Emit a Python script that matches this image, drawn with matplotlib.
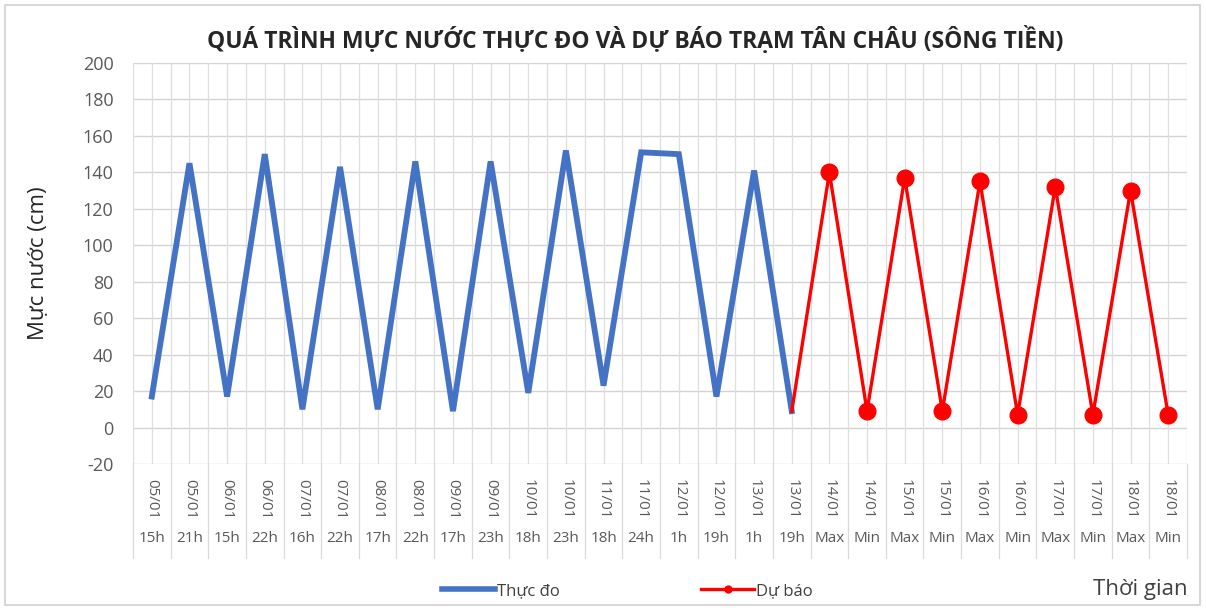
import matplotlib
matplotlib.use("Agg")
import matplotlib.pyplot as plt
from matplotlib.lines import Line2D
from matplotlib.patches import Rectangle
import numpy as np

plt.rcParams['font.family'] = ['Open Sans', 'DejaVu Sans']
plt.rcParams['axes.unicode_minus'] = False

dates = ["05/01", "05/01", "06/01", "06/01", "07/01", "07/01", "08/01", "08/01",
         "09/01", "09/01", "10/01", "10/01", "11/01", "11/01", "12/01", "12/01",
         "13/01", "13/01", "14/01", "14/01", "15/01", "15/01", "16/01", "16/01",
         "17/01", "17/01", "18/01", "18/01"]
times = ["15h", "21h", "15h", "22h", "16h", "22h", "17h", "22h", "17h", "23h",
         "18h", "23h", "18h", "24h", "1h", "19h", "1h", "19h", "Max", "Min",
         "Max", "Min", "Max", "Min", "Max", "Min", "Max", "Min"]
observed = [17, 145, 17, 150, 10, 143, 10, 146, 9, 146, 19, 152, 23, 151, 150, 17, 141, 9]
forecast = [9, 140, 9, 137, 9, 135, 7, 132, 7, 130, 7]

title = "QUÁ TRÌNH MỰC NƯỚC THỰC ĐO VÀ DỰ BÁO TRẠM TÂN CHÂU (SÔNG TIỀN)"

n = len(dates)
x = np.arange(n)
x_obs = x[:len(observed)]
x_fc = x[len(observed) - 1:]

W, H = 1206, 608
fig = plt.figure(figsize=(W / 100, H / 100), dpi=100)
fig.patch.set_facecolor("white")
fig.add_artist(Rectangle((5 / W, 3 / H), 1195 / W, 600 / H, transform=fig.transFigure,
                         fill=False, edgecolor="#d0d0d0", linewidth=1.2))

left, right, top, bottom = 133 / W, 1187 / W, 1 - 63 / H, 1 - 464 / H
ax = fig.add_axes([left, bottom, right - left, top - bottom])

ax.set_xlim(-0.5, n - 0.5)
ax.set_ylim(-20, 200)
ax.set_yticks(np.arange(-20, 201, 20))
ax.tick_params(axis='y', length=0, labelsize=13, labelcolor="#595959", pad=14)
ax.set_xticks([])
for s in ax.spines.values():
    s.set_visible(False)

# gridlines
for yv in np.arange(-20, 201, 20):
    ax.axhline(yv, color="#d4d4d4", linewidth=1.0, zorder=0)
for xv in np.arange(-0.5, n, 0.5):
    ax.axvline(xv, color="#dedede", linewidth=0.9, zorder=0)

ax.plot(x_obs, observed, color="#4472C4", linewidth=4.2, solid_joinstyle="miter", zorder=3)
ax.plot(x_fc, forecast, color="#FF0000", linewidth=2.4, marker="o", markersize=12,
        markevery=list(range(1, len(forecast))), zorder=4)

# category labels
trans = ax.get_xaxis_transform()
ax_h_px = (top - bottom) * H
def ay(py):
    return (464 - py) / ax_h_px

for i in range(n):
    ax.text(i, ay(499), dates[i], transform=trans, rotation=-90, ha="center", va="center",
            fontsize=11, color="#595959", clip_on=False)
    ax.text(i, ay(539), times[i], transform=trans, ha="center", va="center",
            fontsize=11, color="#595959", clip_on=False)
for xv in np.arange(-0.5, n, 1.0):
    ax.plot([xv, xv], [ay(464), ay(558)], transform=trans, color="#d9d9d9",
            linewidth=0.9, clip_on=False)

ax.set_ylabel("Mực nước (cm)", fontsize=16, color="#262626", labelpad=24)

fig.text(0.527, 1 - 40 / H, title, ha="center", va="center", fontsize=16.5,
         fontweight="bold", color="#262626")

handles = [Line2D([], [], color="#4472C4", linewidth=4),
           Line2D([], [], color="#FF0000", linewidth=2.4, marker="o", markersize=5)]
fig.legend(handles, ["Thực đo", "Dự báo"], loc="center", bbox_to_anchor=(0.52, 1 - 591 / H),
           ncol=2, frameon=False, fontsize=12, handlelength=3.2, handletextpad=0.1,
           columnspacing=8.5, labelcolor="#404040")

fig.text(1188 / W, 1 - 590 / H, "Thời gian", ha="right", va="center", fontsize=16, color="#404040")

fig.savefig("out.png", dpi=100)
